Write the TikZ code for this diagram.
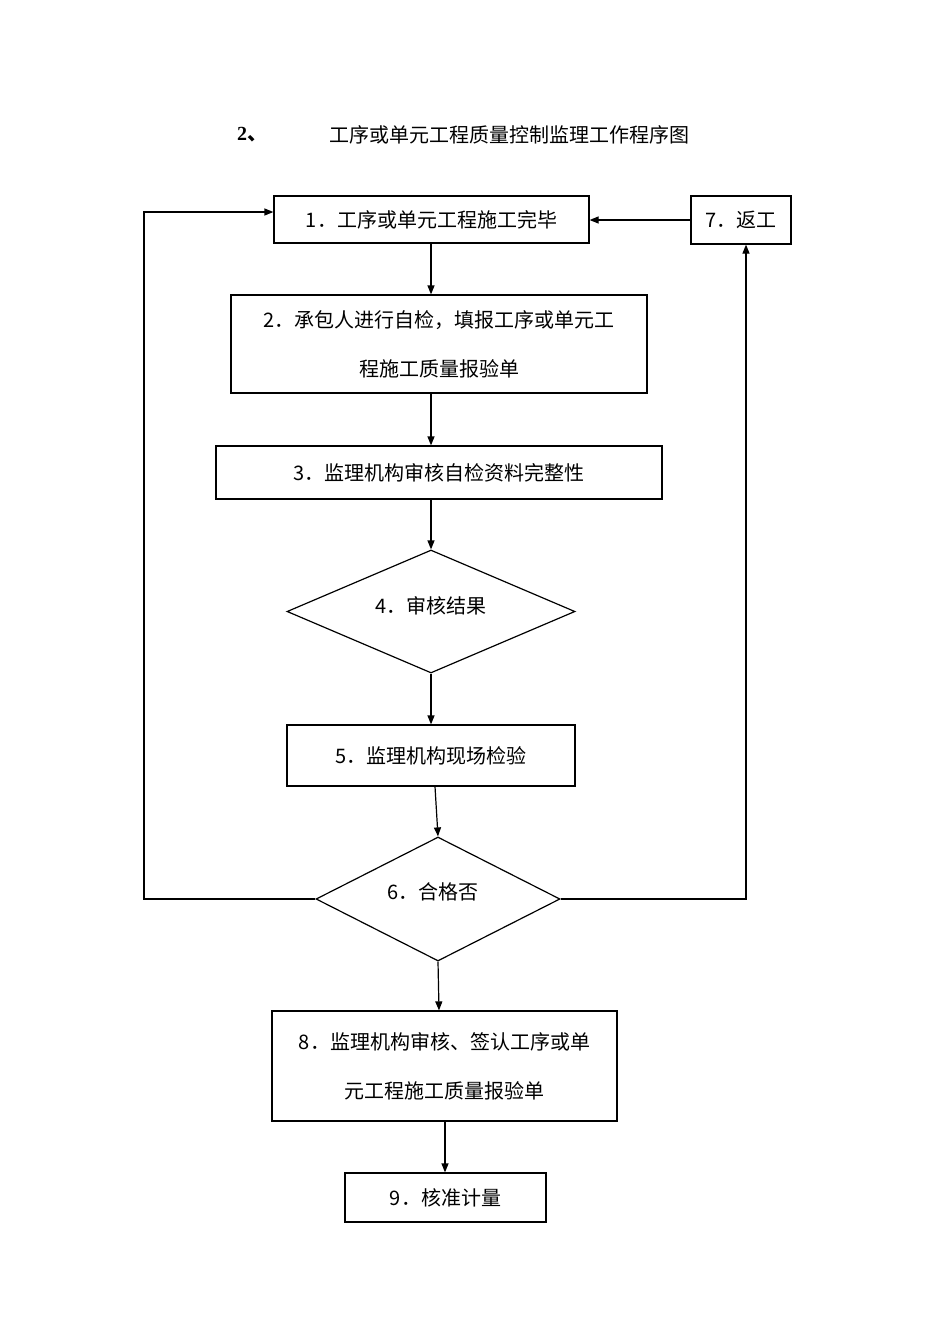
\documentclass[tikz,border=0pt]{standalone}
\usepackage{fontspec}
\setmainfont{Liberation Serif}
\newfontfamily\cjk{Noto Sans CJK SC}
\usetikzlibrary{shapes.geometric,arrows.meta}
\begin{document}
\begin{tikzpicture}[x=1pt,y=-1pt,
  box/.style={draw,line width=1.2pt,inner sep=0pt,font=\cjk\fontsize{20}{49}\selectfont,align=center},
  dia/.style={draw,diamond,line width=1.2pt,inner sep=0pt,font=\cjk\fontsize{20}{24}\selectfont},
  arr/.style={-{Triangle[length=9pt,width=7pt]},line width=1.2pt}]
\useasboundingbox (0,0) rectangle (950,1344);
\node[font=\bfseries\fontsize{20}{24}\selectfont] (n) at (252,135) {2{\cjk 、}};
\node[font=\cjk\fontsize{20}{24}\selectfont] (t) at (509,135) {工序或单元工程质量控制监理工作程序图};
\node[box,minimum width=315,minimum height=47] (b1) at (431.5,219.5) {1．工序或单元工程施工完毕};
\node[box,minimum width=100,minimum height=48] (b7) at (741,220) {7．返工};
\node[box,minimum width=416,minimum height=98] (b2) at (439,344) {2．承包人进行自检，填报工序或单元工\\程施工质量报验单};
\node[box,minimum width=446,minimum height=53] (b3) at (439,472.5) {3．监理机构审核自检资料完整性};
\node[dia,minimum width=288,minimum height=123] (d4) at (431,611.5) {};
\node[font=\cjk\fontsize{20}{24}\selectfont] (d4t) at (431,606) {4．审核结果};
\node[box,minimum width=288,minimum height=61] (b5) at (431,755.5) {5．监理机构现场检验};
\node[dia,minimum width=244,minimum height=124] (d6) at (438,899) {};
\node[font=\cjk\fontsize{20}{24}\selectfont] (d6t) at (433,892) {6．合格否};
\node[box,minimum width=345,minimum height=110] (b8) at (444.5,1066) {8．监理机构审核、签认工序或单\\元工程施工质量报验单};
\node[box,minimum width=201,minimum height=49] (b9) at (445.5,1197.5) {9．核准计量};
\coordinate (l1) at (144,899);
\coordinate (l2) at (144,212);
\coordinate (r1) at (746,899);
\draw[arr] (b1.south -| 431,0) -- (b2.north -| 431,0);
\draw[arr] (b2.south -| 431,0) -- (b3.north -| 431,0);
\draw[arr] (b3.south -| 431,0) -- (d4.north);
\draw[arr] (d4.south) -- (b5.north -| 431,0);
\draw[arr] (b5.south -| 435,0) -- (d6.north);
\draw[arr] (d6.south) -- (b8.north -| 439,0);
\draw[arr] (b8.south -| 445,0) -- (b9.north -| 445,0);
\draw[arr] (d6.west) -- (l1) -- (l2) -- (b1.west |- l2);
\draw[arr] (d6.east) -- (r1) -- (b7.south -| r1);
\draw[arr] (b7.west) -- (b1.east |- b7.west);
\end{tikzpicture}
\end{document}
